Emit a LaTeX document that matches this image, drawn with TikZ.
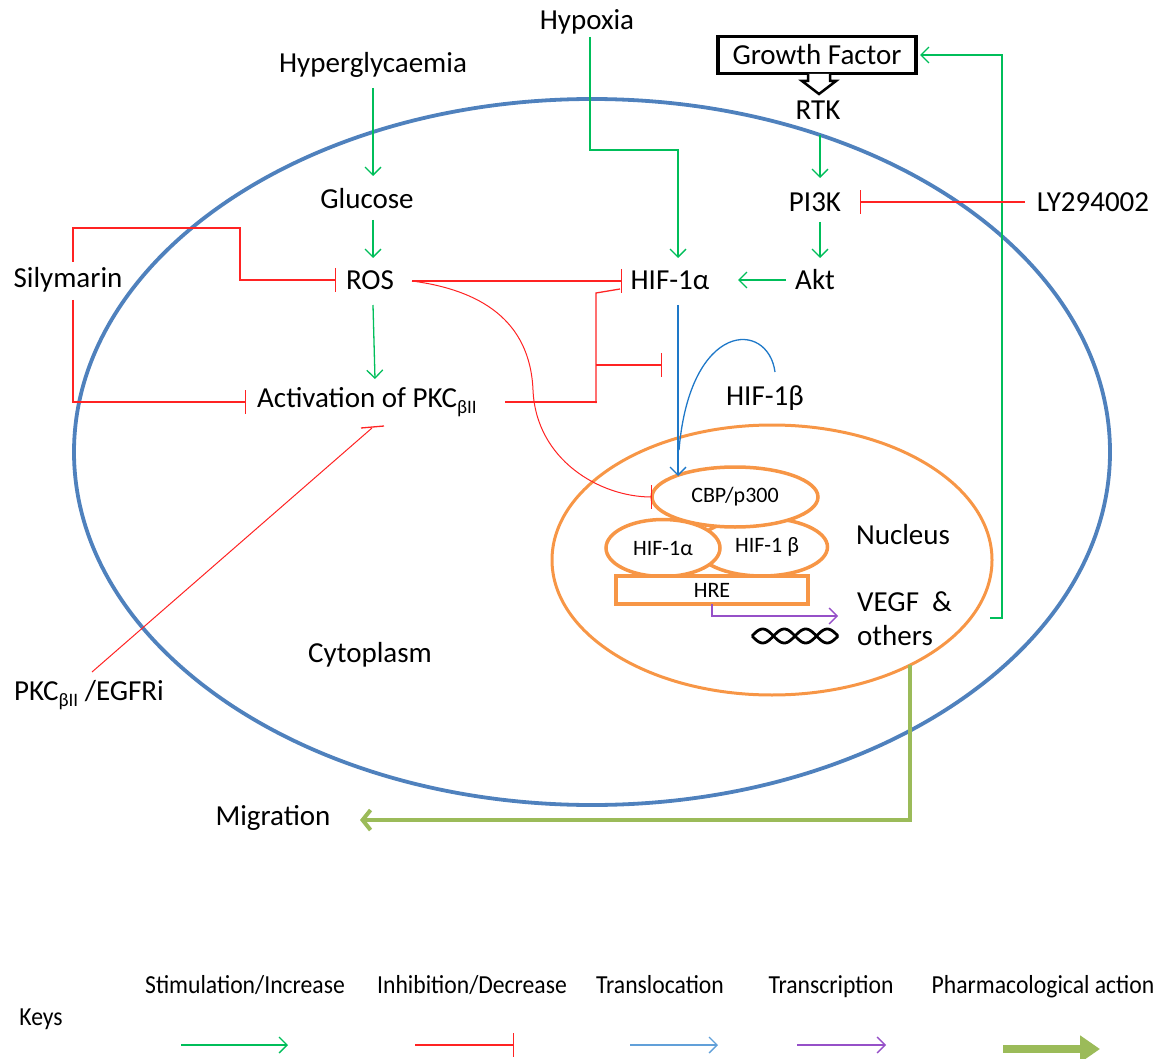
\documentclass[tikz,border=0pt]{standalone}
\usepackage{fontspec}
\setmainfont{Carlito}
\newfontfamily\keyfont[FakeStretch=0.91]{Carlito}
\usetikzlibrary{arrows.meta,shapes.geometric}
\definecolor{stim}{RGB}{0,190,90}
\definecolor{inh}{RGB}{255,35,35}
\definecolor{cellblue}{RGB}{79,129,189}
\definecolor{nucorange}{RGB}{247,150,70}
\definecolor{transl}{RGB}{30,120,200}
\definecolor{transc}{RGB}{150,80,200}
\definecolor{pharm}{RGB}{155,187,89}
\newcommand{\subbii}{\raisebox{-6pt}{\fontsize{19}{20}\selectfont βII}}
\begin{document}
\begin{tikzpicture}[x=1pt,y=-1pt,
  lbl/.style={font=\fontsize{29}{34}\selectfont, inner sep=0pt},
  smalllbl/.style={font=\fontsize{22}{26}\selectfont, inner sep=0pt},
  keylbl/.style={font=\keyfont\fontsize{26}{30}\selectfont, inner sep=0pt, anchor=base},
  stimarrow/.style={draw=stim, line width=1.3pt, -{Straight Barb[length=8pt,width=16pt]}},
  inharrow/.style={draw=inh, line width=1.3pt, -{Bar[width=24pt]}},
  inhline/.style={draw=inh, line width=1.3pt},
  translarrow/.style={draw=transl, line width=1.3pt, -{Straight Barb[length=8pt,width=16pt]}},
  transcarrow/.style={draw=transc, line width=1.3pt, -{Straight Barb[length=8pt,width=16pt]}},
  pharmarrow/.style={draw=pharm, line width=4pt, -{Straight Barb[length=8pt,width=20pt]}},
  nucpart/.style={draw=nucorange, line width=3.5pt, fill=white, ellipse, inner sep=0pt, smalllbl}
]
\useasboundingbox (0,0) rectangle (1167,1059);

% cell and nucleus
\draw[cellblue, line width=3.8pt] (592,452) ellipse [x radius=518pt, y radius=353pt];
\draw[nucorange, line width=3pt] (772,560) ellipse [x radius=220pt, y radius=135pt];

% text nodes
\node[lbl] (hypoxia) at (587,22) {Hypoxia};
\node[lbl, draw, line width=3.5pt, minimum width=198pt, minimum height=37pt] (gf) at (817,55) {Growth Factor};
\node[lbl] (rtk) at (818,110) {RTK};
\node[lbl] (hyper) at (373,65) {Hyperglycaemia};
\node[lbl] (glucose) at (367,199) {Glucose};
\node[lbl] (pi3k) at (815,202) {PI3K};
\node[lbl] (ly) at (1093,202) {LY294002};
\node[lbl] (sily) at (68,280) {Silymarin};
\node[lbl] (ros) at (370,280) {ROS};
\node[lbl] (hifa) at (670,280) {HIF-1α};
\node[lbl] (akt) at (815,280) {Akt};
\node[lbl, anchor=west] (pkc) at (257,402) {Activation of PKC\subbii};
\node[lbl] (hifb) at (765,398) {HIF-1β};
\node[lbl] (nucleus) at (903,535) {Nucleus};
\node[lbl, anchor=west, align=left] (vegf) at (857,619) {VEGF\ \ \&\\others};
\node[lbl] (cyto) at (370,655) {Cytoplasm};
\node[lbl, anchor=west] (pkci) at (14,695) {PKC\subbii\ /EGFRi};
\node[lbl] (migr) at (273,818) {Migration};

% growth factor block arrow
\draw[line width=2.5pt, fill=white, line join=miter] (808,74) -- (808,81) -- (802,81) -- (819,94) -- (836,81) -- (830,81) -- (830,74);

% nucleus complex
\node[nucpart, minimum width=131pt, minimum height=58pt] (cplxb) at (762,547) {\hspace*{10pt}HIF-1 β};
\node[nucpart, minimum width=166pt, minimum height=60pt] (cbp) at (735,497) {CBP/p300};
\node[nucpart, minimum width=114pt, minimum height=57pt] (cplxa) at (663,548) {HIF-1α};
\node[smalllbl, draw=nucorange, line width=3.5pt, fill=white, rectangle, minimum width=192pt, minimum height=28pt] (hre) at (712,590) {HRE};

% DNA
\node[inner sep=0pt, minimum width=86pt, minimum height=16pt] (dna) at (795,636) {};
\draw[line width=2.8pt] plot[domain=0:86, samples=60] ({752+\x}, {636+7*sin(8.372*\x)});
\draw[line width=2.8pt] plot[domain=0:86, samples=60] ({752+\x}, {636-7*sin(8.372*\x)});

% coordinates
\coordinate (hyperS) at (373,88);   \coordinate (glucN) at (373,176);
\coordinate (glucS) at (373,220);   \coordinate (rosN) at (373,258);
\coordinate (rosS) at (373,305);    \coordinate (pkcN) at (375,379);
\coordinate (hypS) at (590,37);     \coordinate (hifaN) at (678,258);
\coordinate (rtkS) at (820,135);    \coordinate (pi3kN) at (820,178);
\coordinate (pi3kS) at (820,222);   \coordinate (aktN) at (820,258);
\coordinate (aktW) at (786,280);    \coordinate (hifaE) at (738,280);
\coordinate (nucE) at (990,618);    \coordinate (gfE) at (920,55);
\coordinate (lyW) at (1025,202);    \coordinate (pi3kE) at (860,202);
\coordinate (rosE) at (412,281);    \coordinate (hifaW) at (622,281);
\coordinate (silyN) at (73,262);    \coordinate (rosW) at (336,280);
\coordinate (silyS) at (73,300);    \coordinate (pkcW) at (246,402);
\coordinate (pkcE) at (505,402);    \coordinate (hifaSW) at (620,289);
\coordinate (branch) at (596,365);  \coordinate (branchEnd) at (662,365);
\coordinate (cbpW) at (652,497);
\coordinate (pkciN) at (92,672);    \coordinate (pkcS) at (372,428);
\coordinate (hifaS) at (678,305);   \coordinate (cbpN) at (678,476);
\coordinate (hifbW) at (775,372);   \coordinate (merge) at (679,450);
\coordinate (hreS) at (712,604);    \coordinate (vegfW) at (838,616);
\coordinate (nucS) at (910,665);    \coordinate (migrE) at (360,820);

% stimulation
\draw[stimarrow] (hyperS) -- (glucN);
\draw[stimarrow] (glucS) -- (rosN);
\draw[stimarrow] (rosS) -- (pkcN);
\draw[stimarrow] (hypS) -- (590,150) -- (678,150) -- (hifaN);
\draw[stimarrow] (rtkS) -- (pi3kN);
\draw[stimarrow] (pi3kS) -- (aktN);
\draw[stimarrow] (aktW) -- (hifaE);
\draw[stimarrow] (nucE) -- (1002,618) -- (1002,55) -- (gfE);

% inhibition
\draw[inharrow] (lyW) -- (pi3kE);
\draw[inharrow] (rosE) -- (hifaW);
\draw[inharrow] (silyN) -- (73,228) -- (240,228) -- (240,280) -- (rosW);
\draw[inharrow] (silyS) -- (73,402) -- (pkcW);
\draw[draw=inh, line width=2.6pt] (pkcE) -- (597,402);
\draw[inhline] (596,403) -- (596,293) -- (hifaSW);
\draw[inharrow] (branch) -- (branchEnd);
\draw[inharrow, line width=1pt] (rosE) .. controls (480,290) and (530,320) .. (533,390) .. controls (536,460) and (600,497) .. (cbpW);
\draw[inhline, line width=1pt] (pkciN) -- (pkcS);
\draw[inhline] (361,428) -- (384,426);

% translocation and transcription
\draw[translarrow] (hifaS) -- (cbpN);
\draw[draw=transl, line width=1.3pt] (hifbW) .. controls (768,320) and (690,320) .. (merge);
\draw[transcarrow] (hreS) -- (712,616) -- (vegfW);

% pharmacological action
\draw[pharmarrow] (nucS) -- (910,820) -- (migrE);

% keys
\node[keylbl] (kstim) at (245,993) {Stimulation/Increase};
\node[keylbl] (kinh) at (472,993) {Inhibition/Decrease};
\node[keylbl] (ktransl) at (660,993) {Translocation};
\node[keylbl] (ktransc) at (831,993) {Transcription};
\node[keylbl] (kpharm) at (1043,993) {Pharmacological action};
\node[keylbl] (keys) at (41,1025) {Keys};
\coordinate (k1a) at (181,1045); \coordinate (k1b) at (288,1045);
\coordinate (k2a) at (415,1045); \coordinate (k2b) at (514,1045);
\coordinate (k3a) at (630,1045); \coordinate (k3b) at (718,1045);
\coordinate (k4a) at (797,1045); \coordinate (k4b) at (886,1045);
\coordinate (k5a) at (1003,1049); \coordinate (k5b) at (1100,1049);
\draw[stimarrow] (k1a) -- (k1b);
\draw[inharrow] (k2a) -- (k2b);
\draw[translarrow, draw=transl!70!white] (k3a) -- (k3b);
\draw[transcarrow] (k4a) -- (k4b);
\draw[draw=pharm, line width=8pt, -{Triangle[length=20pt,width=26pt]}] (k5a) -- (k5b);
\end{tikzpicture}
\end{document}
